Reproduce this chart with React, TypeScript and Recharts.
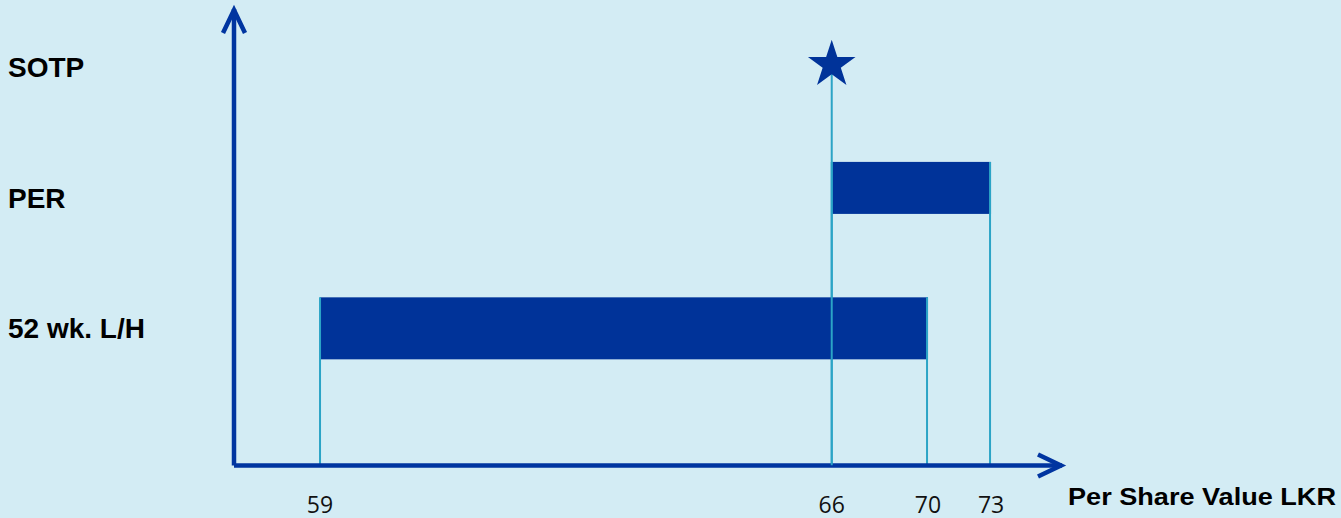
import { ComposedChart, Bar, Scatter, XAxis, YAxis } from 'recharts'

// valuation ranges
const categories = ['SOTP', 'PER', '52 wk. L/H']
const rangeLow: (number | null)[] = [null, 66, 59]
const rangeHigh: (number | null)[] = [null, 73, 70]
const targetValue: (number | null)[] = [66, null, null]
const xTicks = [59, 66, 70, 73]
const axisTitle = 'Per Share Value LKR'

// the original axis is not linear: piecewise knots (value -> fraction of width)
const X_KNOTS = [57.8, 59, 66, 70, 73, 76.4]
const X_STOPS = [0, 0.1039, 0.7219, 0.8382, 0.9143, 1]

const BG = '#d3ecf4'
const AXIS = '#0035a0'
const BAR_FILL = '#003399'
const DROP_LINE = '#2ba4c6'

const W = 1341
const H = 518
const MARGIN = { top: 9, right: 279, bottom: 0, left: 0 }
const XAXIS_H = 52.5
const YAXIS_W = 234
const PLOT_BOTTOM = H - MARGIN.bottom - XAXIS_H
const PLOT_RIGHT = W - MARGIN.right

const BAR_STYLE: Record<string, { size: number; shift: number }> = {
  PER: { size: 52, shift: -10 },
  '52 wk. L/H': { size: 62, shift: 0 },
}

const rows = categories.map((name, i) => ({
  name,
  row: categories.length - i,
  low: rangeLow[i],
  high: rangeHigh[i],
}))

const targets = categories
  .map((name, i) => ({ name, row: categories.length - i, value: targetValue[i] }))
  .filter((d) => d.value != null)

function makeKnotScale(): any {
  let dom = [X_KNOTS[0], X_KNOTS[X_KNOTS.length - 1]]
  let rng = [0, 1]
  const toFrac = (v: number) => {
    let i = 0
    while (i < X_KNOTS.length - 2 && v > X_KNOTS[i + 1]) i++
    const t = (v - X_KNOTS[i]) / (X_KNOTS[i + 1] - X_KNOTS[i])
    return X_STOPS[i] + t * (X_STOPS[i + 1] - X_STOPS[i])
  }
  const fromFrac = (f: number) => {
    let i = 0
    while (i < X_STOPS.length - 2 && f > X_STOPS[i + 1]) i++
    const t = (f - X_STOPS[i]) / (X_STOPS[i + 1] - X_STOPS[i])
    return X_KNOTS[i] + t * (X_KNOTS[i + 1] - X_KNOTS[i])
  }
  const scale: any = (v: number) => rng[0] + toFrac(Number(v)) * (rng[1] - rng[0])
  scale.domain = (d?: number[]) => {
    if (d === undefined) return dom.slice()
    dom = d.slice()
    return scale
  }
  scale.range = (r?: number[]) => {
    if (r === undefined) return rng.slice()
    rng = r.slice()
    return scale
  }
  scale.invert = (px: number) => fromFrac((px - rng[0]) / (rng[1] - rng[0]))
  scale.ticks = () => xTicks.slice()
  scale.clamp = () => scale
  scale.nice = () => scale
  scale.unknown = () => scale
  scale.copy = () => makeKnotScale().domain(dom).range(rng)
  return scale
}

const xScale = makeKnotScale()

function CategoryTick(props: any) {
  const { y, payload } = props
  const label = categories[categories.length - payload.value]
  return (
    <text
      x={8}
      y={y}
      dy="0.35em"
      textAnchor="start"
      fontFamily="'Liberation Sans', Arial, sans-serif"
      fontWeight="bold"
      fontSize={28}
      fill="#000"
    >
      {label}
    </text>
  )
}

function ValueTick(props: any) {
  const { x, payload } = props
  return (
    <text
      x={x}
      y={PLOT_BOTTOM + 47}
      textAnchor="middle"
      fontFamily="'Open Sans', sans-serif"
      fontSize={23}
      fill="#111"
    >
      {payload.value}
    </text>
  )
}

function AxisTitle() {
  return (
    <text
      x={PLOT_RIGHT + 6}
      y={PLOT_BOTTOM + 39}
      textAnchor="start"
      fontFamily="'Liberation Sans', Arial, sans-serif"
      fontWeight="bold"
      fontSize={23}
      textLength={268}
      lengthAdjust="spacingAndGlyphs"
      fill="#000"
    >
      {axisTitle}
    </text>
  )
}

function RangeBar(props: any) {
  const { x, y, width, height, payload } = props
  if (payload == null || payload.low == null) return null
  const st = BAR_STYLE[payload.name] ?? { size: 56, shift: 0 }
  const cy = y + height / 2 + st.shift
  const top = cy - st.size / 2
  return (
    <g>
      <rect x={x} y={top} width={width} height={st.size} fill={BAR_FILL} />
      <line x1={x} x2={x} y1={top} y2={PLOT_BOTTOM} stroke={DROP_LINE} strokeWidth={2} />
      <line x1={x + width - 1} x2={x + width - 1} y1={top} y2={PLOT_BOTTOM} stroke={DROP_LINE} strokeWidth={2} />
    </g>
  )
}

function StarMark(props: any) {
  const { cx, cy } = props
  const R = 25
  const r = R * 0.382
  const pts: string[] = []
  for (let k = 0; k < 10; k++) {
    const ang = -Math.PI / 2 + (k * Math.PI) / 5
    const rad = k % 2 === 0 ? R : r
    pts.push(`${cx + rad * Math.cos(ang)},${cy - 3 + rad * Math.sin(ang)}`)
  }
  return (
    <g>
      <line x1={cx} x2={cx} y1={cy} y2={PLOT_BOTTOM} stroke={DROP_LINE} strokeWidth={2} />
      <polygon points={pts.join(' ')} fill={BAR_FILL} />
    </g>
  )
}

export default function App() {
  return (
    <div style={{ position: 'absolute', left: 0, top: 0, width: W, height: H, background: BG }}>
      <ComposedChart layout="vertical" width={W} height={H} data={rows} margin={MARGIN}>
        <defs>
          <marker
            id="axisArrow"
            viewBox="0 0 30 30"
            markerUnits="userSpaceOnUse"
            markerWidth={30}
            markerHeight={30}
            refX={26}
            refY={15}
            orient="auto-start-reverse"
            overflow="visible"
          >
            <path d="M 2 4 L 25 15 L 2 26" fill="none" stroke={AXIS} strokeWidth={4.5} />
          </marker>
        </defs>
        <XAxis
          type="number"
          dataKey="value"
          scale={xScale}
          domain={[X_KNOTS[0], X_KNOTS[X_KNOTS.length - 1]]}
          allowDataOverflow
          ticks={xTicks}
          interval={0}
          height={XAXIS_H}
          tickLine={false}
          tickSize={0}
          tickMargin={0}
          tick={<ValueTick />}
          axisLine={{ stroke: AXIS, strokeWidth: 4.5, markerEnd: 'url(#axisArrow)' }}
          label={<AxisTitle />}
        />
        <YAxis
          type="number"
          dataKey="row"
          reversed
          width={YAXIS_W}
          domain={[-0.05, 3.45]}
          allowDataOverflow
          ticks={[1, 2, 3]}
          interval={0}
          tickLine={false}
          tickSize={0}
          tick={<CategoryTick />}
          axisLine={{ stroke: AXIS, strokeWidth: 4.5, markerStart: 'url(#axisArrow)' }}
        />
        <Bar
          dataKey={(d: any) => (d.low == null ? null : [d.low, d.high])}
          barSize={50}
          shape={(p: any) => <RangeBar {...p} />}
          isAnimationActive={false}
        />
        <Scatter data={targets} shape={(p: any) => <StarMark {...p} />} isAnimationActive={false} />
      </ComposedChart>
    </div>
  )
}
